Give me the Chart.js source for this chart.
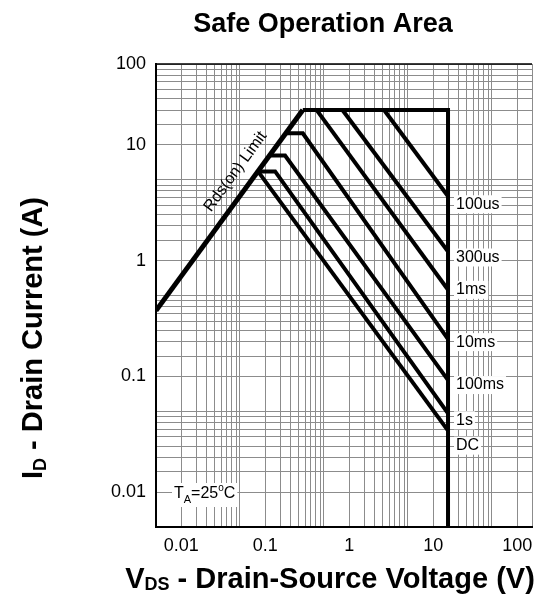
<!DOCTYPE html>
<html><head><meta charset="utf-8">
<script src="https://cdn.jsdelivr.net/npm/chart.js@4/dist/chart.umd.min.js"></script>
<style>html,body{margin:0;padding:0;background:#fff}</style>
</head><body>
<canvas id="c" width="540" height="595"></canvas>
<script>
// ---- data ----
const seriesNames = ['100us', '300us', '1ms', '10ms', '100ms', '1s', 'DC'];
const v100us = [2.6, 15];            const i100us = [20, 3.6];
const v300us = [0.83, 15];           const i300us = [20, 1.2];
const v1ms   = [0.41, 15];           const i1ms   = [20, 0.56];
const v10ms  = [0.176, 0.28, 15];    const i10ms  = [12.6, 12.6, 0.21];
const v100ms = [0.112, 0.172, 15];   const i100ms = [8.1, 8.1, 0.093];
const v1s    = [0.082, 0.131, 15];   const i1s    = [5.9, 5.9, 0.048];
const vDC    = [0.082, 15];          const iDC    = [5.9, 0.034];
const vRds   = [0.005, 0.28];        const iRds   = [0.37, 20];
const vLimit = [0.28, 15, 15];       const iLimit = [20, 20, 0.005];

const xTickValues = [0.01, 0.1, 1, 10, 100];
const xTickLabels = ['0.01', '0.1', '1', '10', '100'];
const yTickValues = [0.01, 0.1, 1, 10, 50];
const yTickLabels = ['0.01', '0.1', '1', '10', '100'];
const gridMantissas = [1, 1.5, 2, 2.5, 3, 3.5, 4, 4.5, 5];

const FONT = '"Liberation Sans", Arial, Helvetica, sans-serif';

function pts(vs, is) { return vs.map((v, k) => ({x: v, y: is[k]})); }
function gridTicks(min, max) {
  const out = [];
  for (let e = -4; e <= 3; e++) {
    for (const m of gridMantissas) {
      const v = parseFloat((m * Math.pow(10, e)).toPrecision(6));
      if (v >= min * 0.9999 && v <= max * 1.0001) out.push(v);
    }
  }
  return out.map(v => ({value: v}));
}
function labelFor(v, vals, labs) {
  for (let k = 0; k < vals.length; k++) {
    if (Math.abs(v - vals[k]) / vals[k] < 1e-6) return labs[k];
  }
  return '';
}

const curveSeries = [
  [v100us, i100us], [v300us, i300us], [v1ms, i1ms], [v10ms, i10ms],
  [v100ms, i100ms], [v1s, i1s], [vDC, iDC]
];
const datasets = curveSeries.map((s, k) => ({
  label: seriesNames[k], data: pts(s[0], s[1]), showLine: true,
  borderColor: '#000', borderWidth: 4, pointRadius: 0, fill: false
}));
datasets.push({label: 'Rds(on) Limit', data: pts(vRds, iRds), showLine: true, borderColor: '#000', borderWidth: 5, pointRadius: 0});
datasets.push({label: 'Limit', data: pts(vLimit, iLimit), showLine: true, borderColor: '#000', borderWidth: 4, pointRadius: 0});

const labelOffsets = {'100us': 8, '300us': 6, '1ms': 0, '10ms': 3, '100ms': 5, '1s': 7, 'DC': 15};

const annot = {
  id: 'annot',
  afterDraw(chart) {
    const ctx = chart.ctx, xs = chart.scales.x, ys = chart.scales.y, ca = chart.chartArea;
    ctx.save();
    // frame top line
    ctx.strokeStyle = '#000'; ctx.lineWidth = 1.5;
    ctx.beginPath(); ctx.moveTo(ca.left, ca.top); ctx.lineTo(ca.right, ca.top); ctx.stroke();

    // curve labels
    ctx.font = '16px ' + FONT; ctx.textBaseline = 'middle'; ctx.textAlign = 'left';
    curveSeries.forEach((s, k) => {
      const name = seriesNames[k];
      const vx = s[0][s[0].length - 1], iy = s[1][s[1].length - 1];
      const px = xs.getPixelForValue(vx) + 8;
      const py = ys.getPixelForValue(iy) + labelOffsets[name];
      const w = ctx.measureText(name).width;
      ctx.fillStyle = '#fff'; ctx.fillRect(px - 2, py - 9, w + 4, 18);
      ctx.fillStyle = '#000'; ctx.fillText(name, px, py);
    });

    // Rds(on) Limit label along the line
    const p0x = xs.getPixelForValue(vRds[0]), p0y = ys.getPixelForValue(iRds[0]);
    const p1x = xs.getPixelForValue(vRds[1]), p1y = ys.getPixelForValue(iRds[1]);
    const ang = Math.atan2(p1y - p0y, p1x - p0x);
    const len = Math.hypot(p1x - p0x, p1y - p0y);
    const ux = (p1x - p0x) / len, uy = (p1y - p0y) / len;
    const nx = uy, ny = -ux; // normal pointing up-left
    const t = 0.64, off = 18;
    const cx = p0x + ux * len * t + nx * off, cy = p0y + uy * len * t + ny * off;
    ctx.save();
    ctx.translate(cx, cy); ctx.rotate(ang);
    ctx.font = '16px ' + FONT; ctx.textAlign = 'center'; ctx.textBaseline = 'middle';
    ctx.fillStyle = '#000'; ctx.fillText('Rds(on) Limit', 0, 0);
    ctx.restore();

    // T_A = 25 °C
    const bx = ca.left + 18, by = ca.bottom - 29;
    ctx.textAlign = 'left'; ctx.textBaseline = 'alphabetic';
    ctx.font = '16px ' + FONT;
    const wT = ctx.measureText('T').width;
    ctx.font = '11px ' + FONT; const wA = ctx.measureText('A').width;
    ctx.font = '16px ' + FONT; const w25 = ctx.measureText('=25').width;
    ctx.font = '10px ' + FONT; const wo = ctx.measureText('o').width;
    ctx.font = '16px ' + FONT; const wC = ctx.measureText('C').width;
    const tw = wT + wA + w25 + wo + wC;
    ctx.fillStyle = '#fff'; ctx.fillRect(bx - 2, by - 15, tw + 4, 24);
    ctx.fillStyle = '#000';
    let xx = bx;
    ctx.font = '16px ' + FONT; ctx.fillText('T', xx, by); xx += wT;
    ctx.font = '11px ' + FONT; ctx.fillText('A', xx, by + 5); xx += wA;
    ctx.font = '16px ' + FONT; ctx.fillText('=25', xx, by); xx += w25;
    ctx.font = '10px ' + FONT; ctx.fillText('o', xx, by - 7); xx += wo;
    ctx.font = '16px ' + FONT; ctx.fillText('C', xx, by);

    // Title
    ctx.font = 'bold 27px ' + FONT; ctx.textAlign = 'center'; ctx.textBaseline = 'alphabetic';
    ctx.fillText('Safe Operation Area', 323, 32);

    // X axis title with subscript
    const mainF = 'bold 29px ' + FONT, subF = 'bold 18px ' + FONT;
    ctx.textAlign = 'left';
    ctx.font = mainF; const wV = ctx.measureText('V').width;
    const restX = ' - Drain-Source Voltage (V)'; const wR = ctx.measureText(restX).width;
    ctx.font = subF; const wDS = ctx.measureText('DS').width;
    let sx = 330 - (wV + wDS + wR) / 2; const base = 588;
    ctx.font = mainF; ctx.fillText('V', sx, base); sx += wV;
    ctx.font = subF; ctx.fillText('DS', sx, base + 2); sx += wDS;
    ctx.font = mainF; ctx.fillText(restX, sx, base);

    // Y axis title (rotated) with subscript
    ctx.save();
    ctx.translate(42, 338); ctx.rotate(-Math.PI / 2);
    ctx.font = mainF; const wI = ctx.measureText('I').width;
    const restY = ' - Drain Current (A)'; const wRY = ctx.measureText(restY).width;
    ctx.font = subF; const wD = ctx.measureText('D').width;
    let sy = -(wI + wD + wRY) / 2;
    ctx.font = mainF; ctx.fillText('I', sy, 0); sy += wI;
    ctx.font = subF; ctx.fillText('D', sy, 4); sy += wD;
    ctx.font = mainF; ctx.fillText(restY, sy, 0);
    ctx.restore();

    ctx.restore();
  }
};

const gridColor = '#8c8c8c';
new Chart(document.getElementById('c'), {
  type: 'scatter',
  data: {datasets},
  options: {
    responsive: false, animation: false, devicePixelRatio: 1,
    layout: {padding: {top: 64, right: 5, left: 0, bottom: 0}},
    plugins: {legend: {display: false}, tooltip: {enabled: false}, title: {display: false}},
    elements: {point: {radius: 0}, line: {tension: 0, borderJoinStyle: 'miter', borderCapStyle: 'butt'}},
    scales: {
      x: {
        type: 'logarithmic', min: 0.005, max: 150,
        afterFit: s => { s.height = 68; },
        afterBuildTicks: s => { s.ticks = gridTicks(0.005, 150); },
        ticks: {autoSkip: false, maxRotation: 0, minRotation: 0, padding: 8, color: '#000',
          font: {family: FONT, size: 18},
          callback: v => labelFor(v, xTickValues, xTickLabels)},
        grid: {color: gridColor, lineWidth: 1, drawTicks: false},
        border: {color: '#000', width: 2}
      },
      y: {
        type: 'logarithmic', min: 0.005, max: 50,
        afterFit: s => { s.width = 156; },
        afterBuildTicks: s => { s.ticks = gridTicks(0.005, 50); },
        ticks: {autoSkip: false, padding: 10, color: '#000',
          font: {family: FONT, size: 18},
          callback: v => labelFor(v, yTickValues, yTickLabels)},
        grid: {color: gridColor, lineWidth: 1, drawTicks: false},
        border: {color: '#000', width: 2}
      }
    }
  },
  plugins: [annot]
});
</script>
</body></html>
